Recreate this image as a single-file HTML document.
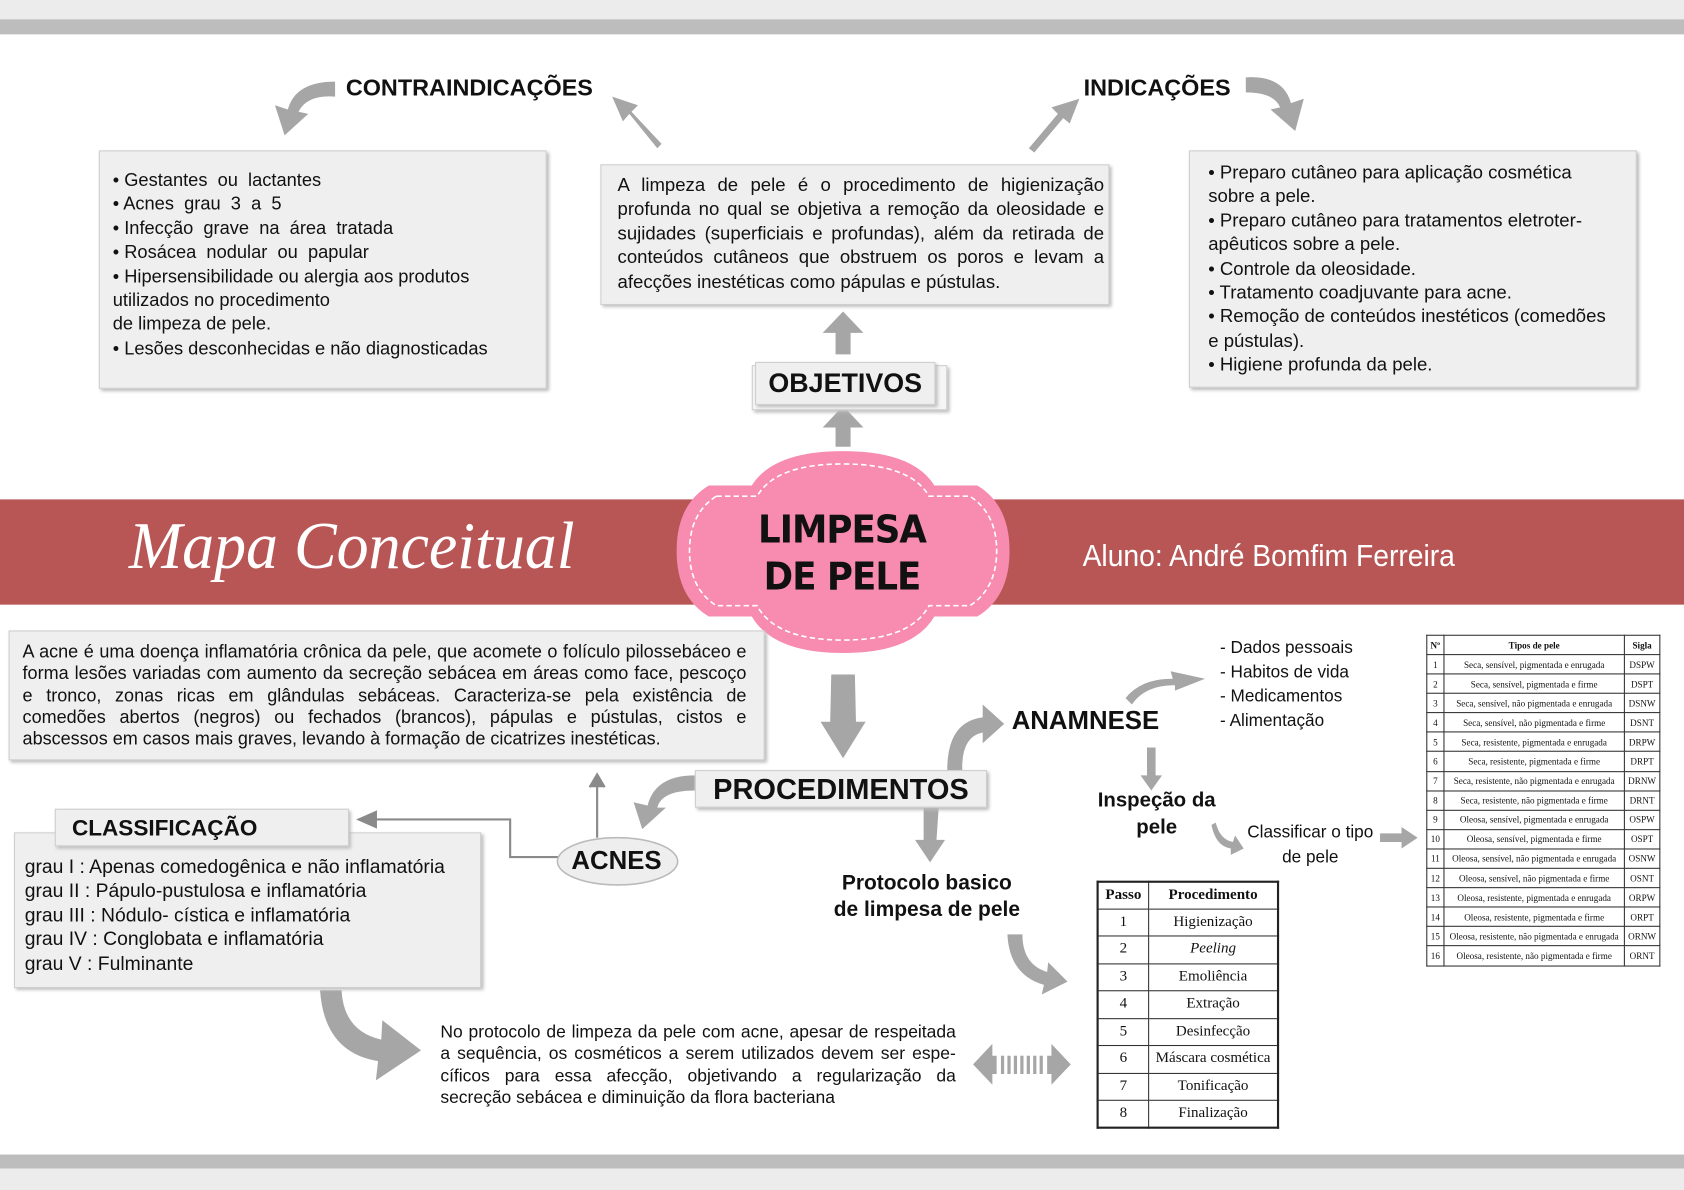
<!DOCTYPE html>
<html><head><meta charset="utf-8"><style>
html,body{margin:0;padding:0;width:1684px;height:1190px;overflow:hidden;background:#fff}
#w{position:absolute;left:0;top:0;width:1568px;height:1108px;transform:scale(1.07398);transform-origin:0 0;font-family:"Liberation Sans",sans-serif;color:#111}
.a{position:absolute}
.box{position:absolute;background:#efefef;border:1px solid #cfcfcf;box-shadow:2px 2px 3px #bbb;box-sizing:border-box}
.t{font-size:17px;line-height:22.4px}
.lbl{position:absolute;font-weight:bold;font-size:21px}
table{border-collapse:collapse;font-family:"Liberation Serif",serif;position:absolute}
td,th{border:1px solid #333;text-align:center;padding:0}
</style></head><body><div id="w">
<div class="a" style="left:0;top:0;width:1568px;height:18px;background:#ececec"></div>
<div class="a" style="left:0;top:18px;width:1568px;height:14px;background:#bdbdbd"></div>
<div class="a" style="left:0;top:1075px;width:1568px;height:13px;background:#bdbdbd"></div>
<div class="a" style="left:0;top:1088px;width:1568px;height:20px;background:#ececec"></div>

<div class="a" style="left:0;top:465px;width:1568px;height:98px;background:#b85656"></div>
<div class="a" style="left:120px;top:474px;color:#fff;font-family:'Liberation Serif',serif;font-style:italic;font-size:62px;transform:scaleX(0.96);transform-origin:0 0">Mapa Conceitual</div>
<div class="a" style="left:1008px;top:502px;color:#fff;font-size:28px;transform:scaleX(0.94);transform-origin:0 0">Aluno: André Bomfim Ferreira</div>

<svg class="a" style="left:0;top:0" width="1568" height="1108">
<g fill="#a6a6a6" stroke="none">
<path d="M660 452 L700 452 Q720 420 785 420 Q850 420 870 452 L910 452 Q940 470 940 513 Q940 556 910 574 L870 574 Q850 608 785 608 Q720 608 700 574 L660 574 Q630 556 630 513 Q630 470 660 452Z" fill="#f78bb0"/>
<path d="M667 462 L705 462 Q722 432 785 432 Q848 432 865 462 L903 462 Q928 478 928 513 Q928 548 903 564 L865 564 Q848 596 785 596 Q722 596 705 564 L667 564 Q642 548 642 513 Q642 478 667 462Z" fill="none" stroke="#fff" stroke-width="1.5" stroke-dasharray="5 3"/>
<path d="M778 330 L778 310 L766 310 L785 290 L804 310 L792 310 L792 330Z"/>
<path d="M778 416 L778 398 L766 398 L785 378 L804 398 L792 398 L792 416Z"/>
<path d="M612 138 L586 106 L580 113 L570 90 L594 98 L588 104 L616 134Z"/>
<path d="M958 138 L985 106 L979 100 L1005 92 L996 115 L990 110 L963 142Z"/>
<path d="M312 76 Q275 76 268 102 L256 98 L265 126 L287 106 L278 104 Q286 88 312 90Z"/>
<path d="M1160 72 Q1195 70 1202 96 L1214 92 L1206 122 L1183 102 L1192 100 Q1186 86 1160 86Z"/>
<path d="M774 628 L796 628 L797 672 L806 672 L785 706 L764 672 L773 672Z"/>
<path d="M647 722 Q610 722 603 750 L590 747 L598 772 L620 752 L612 752 Q616 736 647 736Z"/>
<path d="M882 717 Q882 672 915 668 L915 656 L935 674 L915 692 L915 682 Q895 686 896 717Z"/>
<path d="M860 752 L874 752 L872 782 L880 782 L866 803 L852 782 L860 782Z"/>
<path d="M1048 650 Q1062 632 1092 632 L1090 625 L1122 632 L1094 643 L1094 638 Q1066 638 1054 656Z"/>
<path d="M1068 696 L1076 696 L1076 722 L1082 722 L1072 736 L1062 722 L1068 722Z"/>
<path d="M1132 766 Q1136 782 1148 784 L1150 778 L1158 790 L1146 796 L1146 790 Q1132 788 1128 768Z"/>
<path d="M1285 776 L1305 776 L1305 770 L1320 780 L1305 790 L1305 784 L1285 784Z"/>
<path d="M938 870 L952 870 Q952 898 975 905 L976 896 L994 914 L970 926 L972 917 Q940 908 938 870Z"/>
<path d="M298 922 L318 922 Q320 960 355 968 L356 950 L392 978 L350 1006 L352 988 Q302 980 298 922Z"/>
<path d="M906 991 L924 972 L924 983 L928 983 L928 1000 L924 1000 L924 1010Z"/>
<path d="M997 991 L979 972 L979 983 L975 983 L975 1000 L979 1000 L979 1010Z"/>
<rect x="932" y="983" width="3" height="17"/><rect x="938" y="983" width="3" height="17"/><rect x="944" y="983" width="3" height="17"/><rect x="950" y="983" width="3" height="17"/><rect x="956" y="983" width="3" height="17"/><rect x="962" y="983" width="3" height="17"/><rect x="968" y="983" width="3" height="17"/>
</g>
<g stroke="#8a8a8a" stroke-width="2" fill="none">
<path d="M556 780 L556 726"/><path d="M549 733 L556 721 L563 733" fill="#8a8a8a"/>
<path d="M520 798 L475 798 L475 763 L345 763"/><path d="M350 756 L334 763 L350 770Z" fill="#8a8a8a"/>
</g>
<ellipse cx="575" cy="802" rx="56" ry="22" fill="#eeeeee" stroke="#bbb" stroke-width="1.5"/>
</svg>

<div class="a" style="left:684px;top:472px;width:200px;text-align:center;font-family:'DejaVu Sans',sans-serif;font-weight:bold;font-size:36px;line-height:44px;letter-spacing:-1px;transform:scaleX(0.92)">LIMPESA<br>DE PELE</div>

<div class="lbl" style="left:322px;top:69px;font-size:21.8px">CONTRAINDICAÇÕES</div>
<div class="lbl" style="left:1009px;top:69px;font-size:21.8px">INDICAÇÕES</div>

<div class="box t" style="left:92px;top:140px;width:417px;height:222px;padding:16px 12px">• Gestantes &nbsp;ou &nbsp;lactantes<br>• Acnes &nbsp;grau &nbsp;3 &nbsp;a &nbsp;5<br>• Infecção &nbsp;grave &nbsp;na &nbsp;área &nbsp;tratada<br>• Rosácea &nbsp;nodular &nbsp;ou &nbsp;papular<br>• Hipersensibilidade ou alergia aos produtos utilizados no procedimento<br>de limpeza de pele.<br>• Lesões desconhecidas e não diagnosticadas</div>

<div class="box t" style="left:559px;top:153px;width:474px;height:131px;padding:7px 4px 0 15px;text-align:justify;font-size:17.3px">A limpeza de pele é o procedimento de higienização profunda no qual se objetiva a remoção da oleosidade e sujidades (superficiais e profundas), além da retirada de conteúdos cutâneos que obstruem os poros e levam a afecções inestéticas como pápulas e pústulas.</div>

<div class="box t" style="left:1107px;top:140px;width:417px;height:221px;padding:8px 20px 0 17px;font-size:17.3px">• Preparo cutâneo para aplicação cosmética sobre a pele.<br>• Preparo cutâneo para tratamentos eletroter-apêuticos sobre a pele.<br>• Controle da oleosidade.<br>• Tratamento coadjuvante para acne.<br>• Remoção de conteúdos inestéticos (comedões e pústulas).<br>• Higiene profunda da pele.</div>

<div class="box" style="left:700px;top:340px;width:182px;height:42px;background:#f5f5f5"></div>
<div class="box lbl" style="left:703px;top:337px;width:168px;height:40px;font-size:25px;text-align:center;line-height:38px">OBJETIVOS</div>

<div class="box t" style="left:8px;top:587px;width:704px;height:121px;padding:9px 16px 0 12px;text-align:justify;font-size:16.8px;line-height:20.3px">A acne é uma doença inflamatória crônica da pele, que acomete o folículo pilossebáceo e forma lesões variadas com aumento da secreção sebácea em áreas como face, pescoço e tronco, zonas ricas em glândulas sebáceas. Caracteriza-se pela existência de comedões abertos (negros) ou fechados (brancos), pápulas e pústulas, cistos e abscessos em casos mais graves, levando à formação de cicatrizes inestéticas.</div>

<div class="box t" style="left:13px;top:775px;width:435px;height:145px;padding:20px 9px 0;font-size:18px">grau I : Apenas comedogênica e não inflamatória<br>grau II : Pápulo-pustulosa e inflamatória<br>grau III : Nódulo- cística e inflamatória<br>grau IV : Conglobata e inflamatória<br>grau V : Fulminante</div>
<div class="box lbl" style="left:51px;top:753px;width:274px;height:35px;padding-left:15px;line-height:35px">CLASSIFICAÇÃO</div>

<div class="lbl" style="left:532px;top:788px;font-size:24px">ACNES</div>
<div class="box lbl" style="left:647px;top:717px;width:272px;height:35px;font-size:27px;text-align:center;line-height:35px">PROCEDIMENTOS</div>
<div class="lbl" style="left:942px;top:658px;font-size:24px">ANAMNESE</div>
<div class="lbl" style="left:1012px;top:733px;width:130px;text-align:center;font-size:19px;line-height:25px">Inspeção da pele</div>
<div class="lbl" style="left:772px;top:810px;width:182px;text-align:center;font-size:19.5px;line-height:25px">Protocolo basico de limpesa de pele</div>
<div class="a" style="left:1136px;top:593px;font-size:16px;line-height:22.5px">- Dados pessoais<br>- Habitos de vida<br>- Medicamentos<br>- Alimentação</div>
<div class="a" style="left:1160px;top:765px;width:120px;text-align:center;font-size:16px;line-height:22.5px">Classificar o tipo de pele</div>

<div class="a" style="left:410px;top:951px;width:480px;font-size:16.3px;line-height:20.3px;text-align:justify">No protocolo de limpeza da pele com acne, apesar de respeitada a sequência, os cosméticos a serem utilizados devem ser espe-cíficos para essa afecção, objetivando a regularização da secreção sebácea e diminuição da flora bacteriana</div>

<table style="left:1021px;top:820px;width:170px;font-size:14px;border:2px solid #222">
<tr style="height:25px"><th style="width:46px">Passo</th><th>Procedimento</th></tr>
<tr style="height:25.5px"><td>1</td><td>Higienização</td></tr>
<tr style="height:25.5px"><td>2</td><td><i>Peeling</i></td></tr>
<tr style="height:25.5px"><td>3</td><td>Emoliência</td></tr>
<tr style="height:25.5px"><td>4</td><td>Extração</td></tr>
<tr style="height:25.5px"><td>5</td><td>Desinfecção</td></tr>
<tr style="height:25.5px"><td>6</td><td>Máscara cosmética</td></tr>
<tr style="height:25.5px"><td>7</td><td>Tonificação</td></tr>
<tr style="height:25.5px"><td>8</td><td>Finalização</td></tr>
</table>

<table style="left:1328px;top:591px;width:218px;font-size:8.5px;border:1.5px solid #222">
<tr style="height:18px"><th style="width:15px">Nº</th><th>Tipos de pele</th><th style="width:32px">Sigla</th></tr>
<tr style="height:18.1px"><td>1</td><td>Seca, sensível, pigmentada e enrugada</td><td>DSPW</td></tr>
<tr style="height:18.1px"><td>2</td><td>Seca, sensível, pigmentada e firme</td><td>DSPT</td></tr>
<tr style="height:18.1px"><td>3</td><td>Seca, sensível, não pigmentada e enrugada</td><td>DSNW</td></tr>
<tr style="height:18.1px"><td>4</td><td>Seca, sensível, não pigmentada e firme</td><td>DSNT</td></tr>
<tr style="height:18.1px"><td>5</td><td>Seca, resistente, pigmentada e enrugada</td><td>DRPW</td></tr>
<tr style="height:18.1px"><td>6</td><td>Seca, resistente, pigmentada e firme</td><td>DRPT</td></tr>
<tr style="height:18.1px"><td>7</td><td>Seca, resistente, não pigmentada e enrugada</td><td>DRNW</td></tr>
<tr style="height:18.1px"><td>8</td><td>Seca, resistente, não pigmentada e firme</td><td>DRNT</td></tr>
<tr style="height:18.1px"><td>9</td><td>Oleosa, sensível, pigmentada e enrugada</td><td>OSPW</td></tr>
<tr style="height:18.1px"><td>10</td><td>Oleosa, sensível, pigmentada e firme</td><td>OSPT</td></tr>
<tr style="height:18.1px"><td>11</td><td>Oleosa, sensível, não pigmentada e enrugada</td><td>OSNW</td></tr>
<tr style="height:18.1px"><td>12</td><td>Oleosa, sensível, não pigmentada e firme</td><td>OSNT</td></tr>
<tr style="height:18.1px"><td>13</td><td>Oleosa, resistente, pigmentada e enrugada</td><td>ORPW</td></tr>
<tr style="height:18.1px"><td>14</td><td>Oleosa, resistente, pigmentada e firme</td><td>ORPT</td></tr>
<tr style="height:18.1px"><td>15</td><td>Oleosa, resistente, não pigmentada e enrugada</td><td>ORNW</td></tr>
<tr style="height:18.1px"><td>16</td><td>Oleosa, resistente, não pigmentada e firme</td><td>ORNT</td></tr>
</table>
</div></body></html>
